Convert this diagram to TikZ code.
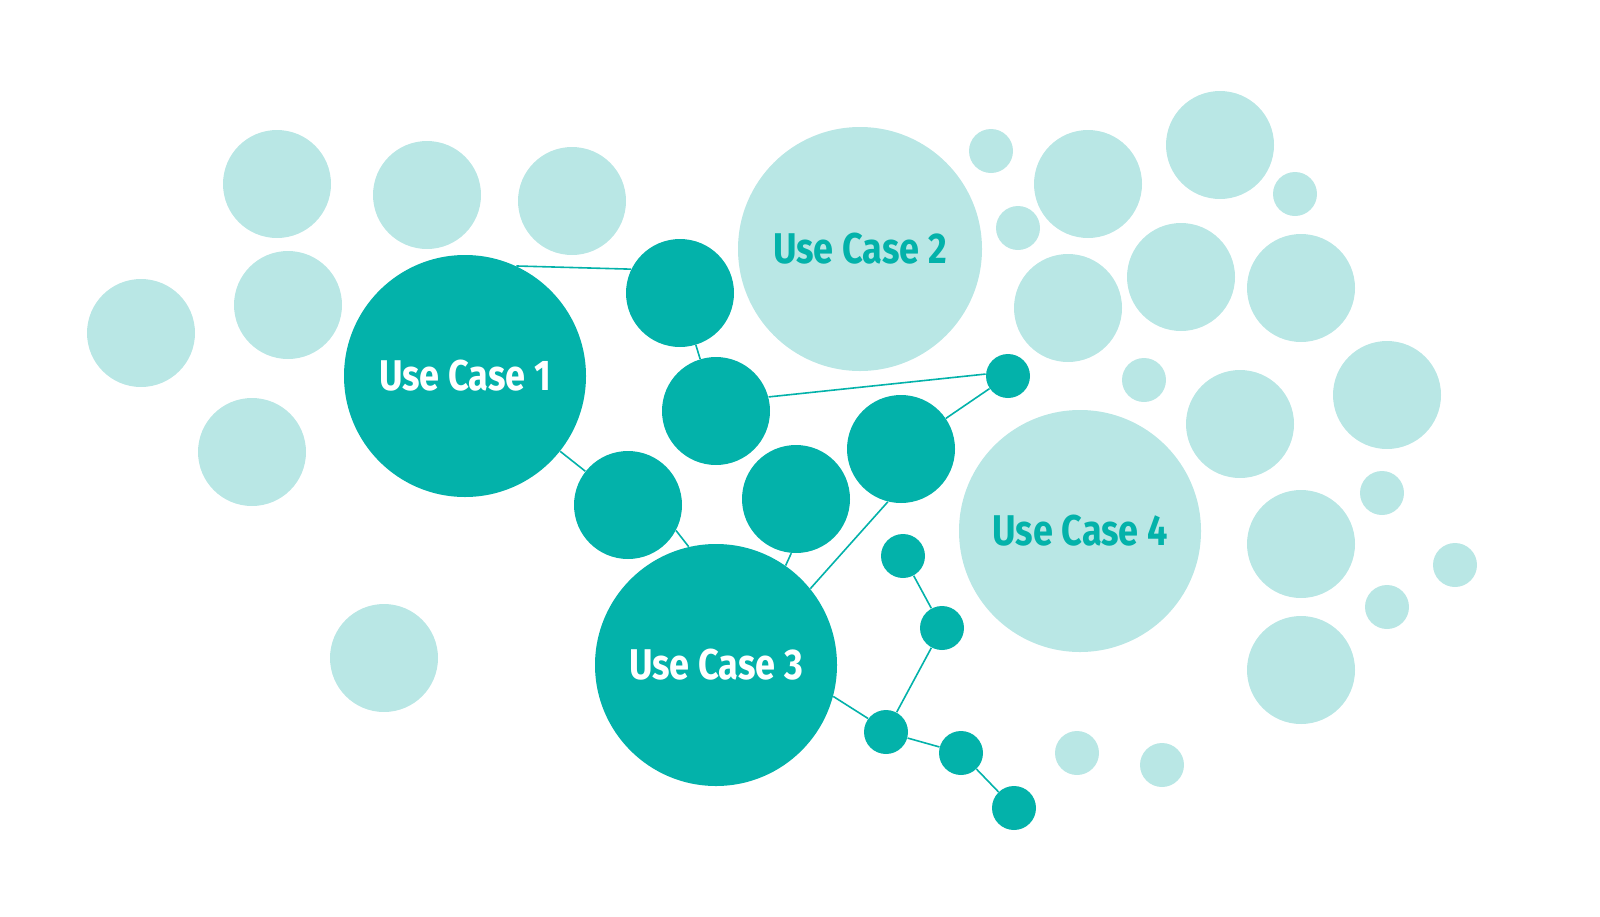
\documentclass[tikz,border=0pt]{standalone}
\usepackage{fontspec}
\newfontfamily\ucfont[FakeStretch=0.84]{Fira Sans}
\definecolor{teal1}{HTML}{03B2AA}
\definecolor{teal2}{HTML}{B9E7E5}
\tikzset{
  dk/.style={circle, fill=teal1, inner sep=0pt, text=white},
  lt/.style={circle, fill=teal2, inner sep=0pt, text=teal1},
  uc/.style={font=\ucfont\bfseries\fontsize{21.5}{24}\selectfont},
  link/.style={draw=teal1, line width=0.8pt},
}
\begin{document}
\begin{tikzpicture}[x=0.5pt,y=-0.5pt]
\useasboundingbox (0,0) rectangle (1600,916);
% light circles
\node[lt, minimum size=122pt, uc] (uc2) at (860,249) {Use Case 2};
\node[lt, minimum size=121pt, uc] (uc4) at (1080,531) {Use Case 4};
\foreach \x/\y/\r [count=\i] in {277/184/54, 427/195/54, 572/201/54, 288/305/54, 141/333/54, 252/452/54, 384/658/54,
  991/151/22, 1018/228/22, 1088/184/54, 1220/145/54, 1295/194/22, 1181/277/54, 1068/308/54, 1301/288/54,
  1144/380/22, 1240/424/54, 1387/395/54, 1382/493/22, 1301/544/54, 1455/565/22, 1387/607/22, 1301/670/54,
  1077/753/22, 1162/765/22}
  \node[lt, minimum size=\r pt] (l\i) at (\x,\y) {};
% dark circles
\node[dk, minimum size=121pt, uc] (uc1) at (465,376) {Use Case 1};
\node[dk, minimum size=121pt, uc] (uc3) at (716,665) {Use Case 3};
\node[dk, minimum size=54pt] (a) at (680,293) {};
\node[dk, minimum size=54pt] (b) at (716,411) {};
\node[dk, minimum size=54pt] (c) at (628,505) {};
\node[dk, minimum size=54pt] (d) at (796,499) {};
\node[dk, minimum size=54pt] (e) at (901,449) {};
\node[dk, minimum size=22pt] (f) at (1008,376) {};
\node[dk, minimum size=22pt] (g) at (903,556) {};
\node[dk, minimum size=22pt] (h) at (942,628) {};
\node[dk, minimum size=22pt] (i) at (886,732) {};
\node[dk, minimum size=22pt] (j) at (961,753) {};
\node[dk, minimum size=22pt] (k) at (1014,808) {};
% connectors
\draw[link] (uc1.65) -- (a.154);
\draw[link] (a) -- (b);
\draw[link] (b.15) -- (f.175);
\draw[link] (f) -- (e);
\draw[link] (uc1) -- (c);
\draw[link] (c.-28) -- (uc3.103);
\draw[link] (d.-95) -- (uc3.55);
\draw[link] (e.-104) -- (uc3.39);
\draw[link] (uc3.-15) -- (i.143);
\draw[link] (g) -- (h);
\draw[link] (h) -- (i);
\draw[link] (i) -- (j);
\draw[link] (j) -- (k);
\end{tikzpicture}
\end{document}
